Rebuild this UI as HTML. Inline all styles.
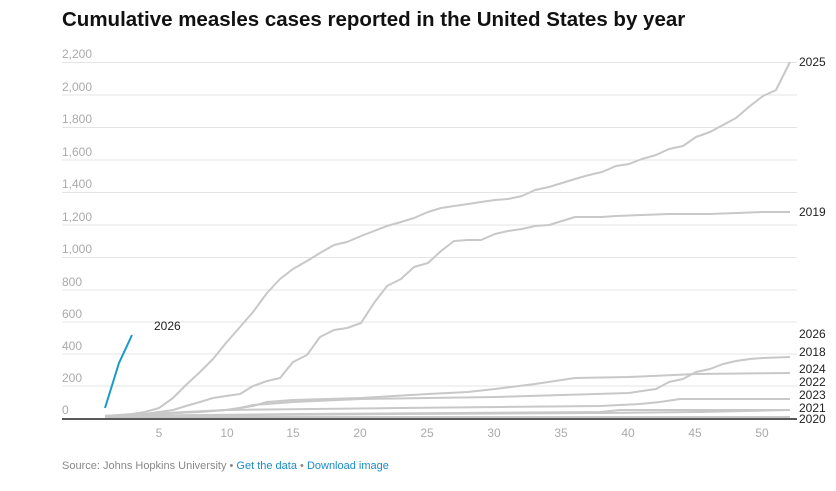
<!DOCTYPE html><html><head><style>body{margin:0;background:#fff;font-family:"Liberation Sans",Arial,sans-serif}</style></head><body>
<svg width="836" height="486" xmlns="http://www.w3.org/2000/svg" font-family="Liberation Sans, Arial, sans-serif">
<text x="62" y="26" font-size="20.5" font-weight="bold" fill="#111">Cumulative measles cases reported in the United States by year</text>
<g stroke="#e4e4e4" stroke-width="1">
<line x1="62" x2="797" y1="62.5" y2="62.5"/><line x1="62" x2="797" y1="95" y2="95"/><line x1="62" x2="797" y1="127.5" y2="127.5"/><line x1="62" x2="797" y1="160" y2="160"/><line x1="62" x2="797" y1="192.5" y2="192.5"/><line x1="62" x2="797" y1="225" y2="225"/><line x1="62" x2="797" y1="257.5" y2="257.5"/><line x1="62" x2="797" y1="290" y2="290"/><line x1="62" x2="797" y1="322" y2="322"/><line x1="62" x2="797" y1="354" y2="354"/><line x1="62" x2="797" y1="386" y2="386"/>
</g>
<g font-size="12" fill="#aaa">
<text x="62" y="58">2,200</text><text x="62" y="91">2,000</text><text x="62" y="123">1,800</text><text x="62" y="156">1,600</text><text x="62" y="188">1,400</text><text x="62" y="221">1,200</text><text x="62" y="253">1,000</text><text x="62" y="286">800</text><text x="62" y="318">600</text><text x="62" y="350">400</text><text x="62" y="382">200</text><text x="62" y="414">0</text>
</g>
<g fill="none" stroke="#c8c8c8" stroke-width="2" stroke-linejoin="round">
<polyline points="105,417 790,417"/>
<polyline points="105,416 400,414 600,413 700,412 790,410"/>
<polyline points="105,416 300,414 600,412 620,410 700,410 790,410"/>
<polyline points="105,416 226,410 400,408 500,407 600,406 620,405 640,404 660,402 680,399 700,399 790,399"/>
<polyline points="105,416 159,414 226,410 240,408 253,405 267,404 280,403 293,402 361,399 428,398 495,397 562,395 629,393 642,391 656,389 669,382 683,379 696,372 710,369 723,364 736,361 750,359 763,358 790,357"/>
<polyline points="105,416 200,412 226,410 253,406 267,402 293,400 361,398 428,394 468,392 495,389 535,384 575,378 629,377 696,374 790,373"/>
<polyline points="105,416 145,414 159,412 173,410 186,406 200,402 213,398 226,396 240,394 253,386 267,381 280,378 293,362 307,355 320,337 334,330 347,328 361,323 374,303 387,286 401,279 414,267 428,263 441,251 454,241 468,240 481,240 495,234 508,231 522,229 535,226 549,225 562,221 575,217 602,217 616,216 642,215 669,214 710,214 763,212 790,212"/>
<polyline points="105,416 132,414 145,412 159,408 173,398 186,385 200,372 213,359 226,343 240,327 253,312 267,293 280,279 293,269 307,261 320,253 334,245 347,242 361,236 374,231 387,226 401,222 414,218 428,212 441,208 454,206 468,204 481,202 495,200 508,199 522,196 535,190 549,187 562,183 575,179 589,175 602,172 616,166 629,164 642,159 656,155 669,149 683,146 696,137 710,132 723,125 736,118 750,106 763,96 776,90 790,62"/>
</g>
<polyline points="105,408 119,363 132,335" fill="none" stroke="#1a9bc7" stroke-width="2"/>
<line x1="62" x2="797" y1="419" y2="419" stroke="#222" stroke-width="1.5"/>
<g font-size="12" fill="#aaa" text-anchor="middle">
<text x="159" y="437">5</text><text x="227" y="437">10</text><text x="293" y="437">15</text><text x="360" y="437">20</text><text x="427" y="437">25</text><text x="494" y="437">30</text><text x="561" y="437">35</text><text x="628" y="437">40</text><text x="695" y="437">45</text><text x="762" y="437">50</text>
</g>
<g font-size="12" fill="#222">
<text x="154" y="330">2026</text>
<text x="799" y="66">2025</text><text x="799" y="216">2019</text><text x="799" y="338">2026</text><text x="799" y="356">2018</text><text x="799" y="373">2024</text><text x="799" y="386">2022</text><text x="799" y="399">2023</text><text x="799" y="412">2021</text><text x="799" y="423">2020</text>
</g>
<text x="62" y="469" font-size="11" fill="#888">Source: Johns Hopkins University • <tspan fill="#1a8cc7">Get the data</tspan> • <tspan fill="#1a8cc7">Download image</tspan></text>
</svg>
</body></html>
